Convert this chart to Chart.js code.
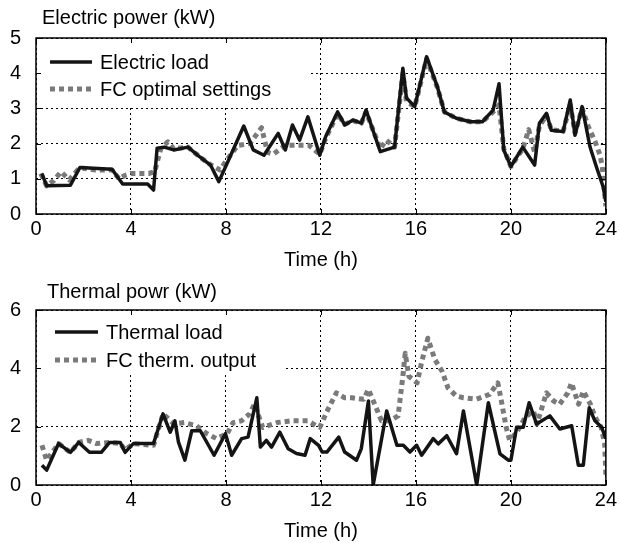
<!DOCTYPE html>
<html>
<head>
<meta charset="utf-8">
<script src="https://cdn.jsdelivr.net/npm/chart.js@4.4.1/dist/chart.umd.min.js"></script>
<style>
  body { margin: 0; background: #fff; }
  canvas { display: block; }
</style>
</head>
<body>
<canvas id="elecChart" width="620" height="272"></canvas>
<canvas id="thermChart" width="620" height="271"></canvas>
<script>
// Electric power (kW)
const elecLoadTime = [0.25, 0.45, 1.45, 1.85, 3.2, 3.65, 4.7, 4.95, 5.1, 5.4, 5.8, 6.4, 6.9, 7.35, 7.7, 8.05, 8.75, 9.15, 9.6, 10.2, 10.5, 10.8, 11.1, 11.45, 11.95, 12.2, 12.7, 13.0, 13.35, 13.7, 13.9, 14.5, 15.1, 15.45, 15.6, 15.95, 16.45, 16.9, 17.2, 17.7, 18.3, 18.8, 19.25, 19.5, 19.7, 20.0, 20.5, 21.0, 21.2, 21.5, 21.7, 22.2, 22.5, 22.7, 23.0, 23.33, 23.6, 23.88, 24.0];
const elecLoad = [1.15, 0.8, 0.82, 1.32, 1.27, 0.85, 0.85, 0.68, 1.87, 1.9, 1.82, 1.9, 1.62, 1.39, 0.92, 1.44, 2.5, 1.82, 1.67, 2.29, 1.82, 2.53, 2.1, 2.76, 1.67, 2.2, 2.9, 2.53, 2.67, 2.58, 2.95, 1.77, 1.9, 4.14, 3.3, 3.05, 4.47, 3.62, 2.9, 2.72, 2.62, 2.62, 2.95, 3.7, 1.82, 1.35, 1.9, 1.39, 2.58, 2.86, 2.38, 2.34, 3.24, 2.24, 3.05, 1.91, 1.34, 0.78, 0.35];

const fcElecTime = [0.2, 0.45, 0.75, 1.05, 1.4, 1.75, 2.0, 2.5, 3.2, 3.5, 3.75, 4.0, 4.75, 5.0, 5.25, 5.55, 5.8, 6.4, 6.9, 7.35, 7.75, 8.05, 8.5, 9.0, 9.5, 9.75, 10.0, 10.5, 11.0, 11.5, 11.95, 12.2, 12.7, 13.0, 13.35, 13.7, 13.9, 14.5, 14.75, 15.1, 15.45, 15.6, 15.95, 16.45, 16.9, 17.2, 17.7, 18.3, 18.8, 19.25, 19.5, 19.7, 20.0, 20.5, 20.75, 21.0, 21.2, 21.5, 21.7, 22.2, 22.5, 22.7, 23.0, 23.25, 23.55, 23.75, 23.85, 24.0];
const fcElec = [1.15, 0.8, 0.95, 1.2, 0.97, 1.25, 1.3, 1.25, 1.25, 1.0, 1.1, 1.15, 1.15, 1.2, 1.85, 2.05, 1.85, 1.9, 1.62, 1.4, 1.25, 1.55, 1.95, 2.0, 2.45, 1.75, 1.7, 1.95, 1.95, 1.95, 1.7, 2.15, 2.85, 2.55, 2.65, 2.58, 2.9, 1.85, 2.1, 1.9, 4.0, 3.2, 3.05, 4.4, 3.6, 2.9, 2.72, 2.62, 2.62, 2.9, 3.1, 1.85, 1.35, 1.85, 2.4, 1.75, 2.5, 2.8, 2.4, 2.35, 3.1, 2.3, 3.0, 2.5, 2.05, 1.68, 1.34, 0.22];

// Thermal power (kW)
const thermLoadTime = [0.25, 0.45, 0.95, 1.45, 1.8, 2.25, 2.75, 3.1, 3.55, 3.75, 4.1, 4.95, 5.35, 5.65, 5.85, 6.0, 6.27, 6.56, 6.92, 7.5, 7.98, 8.24, 8.66, 8.93, 9.3, 9.45, 9.7, 9.92, 10.27, 10.62, 10.97, 11.33, 11.55, 11.9, 12.05, 12.25, 12.75, 13.0, 13.5, 13.7, 14.0, 14.2, 14.77, 15.2, 15.47, 15.75, 16.03, 16.24, 16.73, 16.94, 17.3, 17.71, 18.0, 18.56, 19.05, 19.54, 19.89, 20.0, 20.24, 20.52, 20.77, 21.08, 21.64, 22.06, 22.56, 22.84, 23.05, 23.3, 23.54, 23.82, 24.0];
const thermLoad = [0.68, 0.51, 1.42, 1.12, 1.46, 1.12, 1.12, 1.46, 1.46, 1.12, 1.42, 1.42, 2.44, 1.81, 2.2, 1.47, 0.85, 1.86, 1.86, 1.02, 1.76, 1.02, 1.59, 1.64, 2.99, 1.3, 1.53, 1.3, 1.81, 1.24, 1.08, 1.02, 1.59, 1.36, 1.13, 1.13, 1.64, 1.13, 0.85, 1.25, 2.88, 0.0, 2.54, 1.36, 1.36, 1.13, 1.36, 1.02, 1.59, 1.41, 1.69, 1.07, 2.54, 0.0, 2.82, 1.07, 0.85, 0.85, 1.98, 1.98, 2.82, 2.09, 2.37, 1.92, 2.03, 0.68, 0.68, 2.65, 2.2, 1.98, 1.59];

const fcThermTime = [0.25, 0.45, 0.95, 1.45, 1.8, 2.2, 2.55, 3.1, 3.55, 3.75, 4.1, 4.95, 5.35, 5.8, 6.25, 6.75, 7.2, 7.6, 8.05, 8.3, 8.65, 9.0, 9.2, 9.55, 10.15, 10.75, 11.45, 11.8, 11.95, 12.3, 12.65, 13.0, 13.3, 13.8, 14.0, 14.35, 14.55, 14.9, 15.25, 15.45, 15.55, 15.7, 16.05, 16.25, 16.5, 16.8, 17.1, 17.35, 17.7, 18.0, 18.55, 19.1, 19.45, 19.6, 19.8, 19.95, 20.25, 20.6, 20.95, 21.1, 21.35, 21.5, 21.8, 22.05, 22.4, 22.55, 22.85, 23.05, 23.35, 23.55, 23.8, 23.95, 24.0];
const fcTherm = [1.36, 0.85, 1.42, 1.12, 1.46, 1.53, 1.42, 1.46, 1.42, 1.2, 1.42, 1.36, 2.44, 2.1, 2.14, 2.03, 1.76, 1.59, 1.76, 2.14, 2.2, 2.44, 2.78, 1.97, 2.14, 2.2, 2.2, 2.03, 1.98, 2.6, 3.16, 2.99, 2.99, 2.94, 3.28, 2.6, 2.2, 2.2, 2.37, 3.73, 4.52, 3.73, 3.5, 4.24, 5.03, 4.3, 3.9, 3.33, 3.05, 2.99, 2.94, 3.11, 3.5, 2.88, 1.98, 1.53, 1.81, 2.32, 2.54, 2.09, 2.77, 3.16, 2.88, 2.77, 3.16, 3.5, 2.77, 3.22, 2.77, 2.32, 1.98, 1.42, 0.34];

const FONT = "'Liberation Sans', Arial, sans-serif";
const FONT_SIZE = 20;
const BLACK = '#141414';
const GRAY = '#7a7a7a';

function toPoints(xs, ys) {
  return xs.map((x, i) => ({ x: x, y: ys[i] }));
}

// Draws the frame box, inward ticks, the heading and the legend inside the plot
const framePlugin = {
  id: 'frame',
  beforeDatasetsDraw(chart, args, opts) {
    const ctx = chart.ctx;
    const area = chart.chartArea;
    ctx.save();
    // white legend patch hides the grid behind it
    ctx.fillStyle = '#fff';
    ctx.fillRect(area.left + 1, area.top + 1, opts.legendW, opts.legendH);
    chart.data.datasets.forEach((ds, i) => {
      const y = opts.rows[i];
      ctx.beginPath();
      ctx.strokeStyle = ds.borderColor;
      ctx.lineWidth = ds.borderWidth;
      ctx.setLineDash(ds.borderDash || []);
      ctx.moveTo(opts.lineX0, y);
      ctx.lineTo(opts.lineX1, y);
      ctx.stroke();
      ctx.setLineDash([]);
      ctx.fillStyle = '#000';
      ctx.font = FONT_SIZE + 'px ' + FONT;
      ctx.textBaseline = 'middle';
      ctx.fillText(ds.label, opts.textX, y + 1);
    });
    ctx.restore();
  },
  afterDraw(chart, args, opts) {
    const ctx = chart.ctx;
    const area = chart.chartArea;
    const xs = chart.scales.x;
    const ys = chart.scales.y;
    ctx.save();
    ctx.strokeStyle = '#000';
    ctx.lineWidth = 1.5;
    ctx.setLineDash([]);
    ctx.strokeRect(area.left, area.top, area.right - area.left, area.bottom - area.top);
    ctx.lineWidth = 1;
    ctx.beginPath();
    xs.ticks.forEach(t => {
      const px = Math.round(xs.getPixelForValue(t.value)) + 0.5;
      ctx.moveTo(px, area.bottom); ctx.lineTo(px, area.bottom - 5);
      ctx.moveTo(px, area.top); ctx.lineTo(px, area.top + 5);
    });
    ys.ticks.forEach(t => {
      const py = Math.round(ys.getPixelForValue(t.value)) + 0.5;
      ctx.moveTo(area.left, py); ctx.lineTo(area.left + 5, py);
      ctx.moveTo(area.right, py); ctx.lineTo(area.right - 5, py);
    });
    ctx.stroke();
    // heading above the plot
    ctx.fillStyle = '#000';
    ctx.font = FONT_SIZE + 'px ' + FONT;
    ctx.textBaseline = 'middle';
    ctx.fillText(opts.heading, opts.headingX, opts.headingY);
    ctx.restore();
  }
};

function makeChart(id, series, yMax, yStep, frameOpts) {
  return new Chart(document.getElementById(id), {
    type: 'line',
    data: {
      datasets: series.map(s => ({
        label: s.label,
        data: s.data,
        borderColor: s.color,
        borderWidth: s.width,
        borderDash: s.dash,
        borderCapStyle: 'butt',
        borderJoinStyle: 'round',
        pointRadius: 0,
        tension: 0,
        fill: false
      }))
    },
    options: {
      responsive: false,
      animation: false,
      layout: { padding: { left: 0, right: 14, top: 38, bottom: 0 } },
      plugins: {
        legend: { display: false },
        tooltip: { enabled: false },
        frame: frameOpts
      },
      scales: {
        x: {
          type: 'linear',
          min: 0,
          max: 24,
          grid: { color: '#000', lineWidth: 1, drawTicks: false },
          border: { display: false, dash: [2, 3] },
          ticks: { stepSize: 4, padding: 3, color: '#000', font: { family: FONT, size: FONT_SIZE } },
          title: { display: true, text: 'Time (h)', color: '#000', padding: { top: 0, bottom: 0 }, font: { family: FONT, size: FONT_SIZE } },
          afterFit: scale => { scale.height = 58; }
        },
        y: {
          min: 0,
          max: yMax,
          grid: { color: '#000', lineWidth: 1, drawTicks: false },
          border: { display: false, dash: [2, 3] },
          ticks: { stepSize: yStep, padding: 15, color: '#000', font: { family: FONT, size: FONT_SIZE } },
          afterFit: scale => { scale.width = 36; }
        }
      }
    },
    plugins: [framePlugin]
  });
}

makeChart('elecChart', [
  { label: 'Electric load', data: toPoints(elecLoadTime, elecLoad), color: BLACK, width: 3.5, dash: [] },
  { label: 'FC optimal settings', data: toPoints(fcElecTime, fcElec), color: GRAY, width: 5, dash: [5, 4] }
], 5, 1, {
  heading: 'Electric power (kW)', headingX: 42, headingY: 18,
  legendW: 272, legendH: 67,
  rows: [62, 89], lineX0: 50, lineX1: 92, textX: 100
});

makeChart('thermChart', [
  { label: 'Thermal load', data: toPoints(thermLoadTime, thermLoad), color: BLACK, width: 3.5, dash: [] },
  { label: 'FC therm. output', data: toPoints(fcThermTime, fcTherm), color: GRAY, width: 5, dash: [5, 4] }
], 6, 2, {
  heading: 'Thermal powr (kW)', headingX: 47, headingY: 20,
  legendW: 246, legendH: 63,
  rows: [60, 88], lineX0: 55, lineX1: 98, textX: 106
});
</script>
</body>
</html>
